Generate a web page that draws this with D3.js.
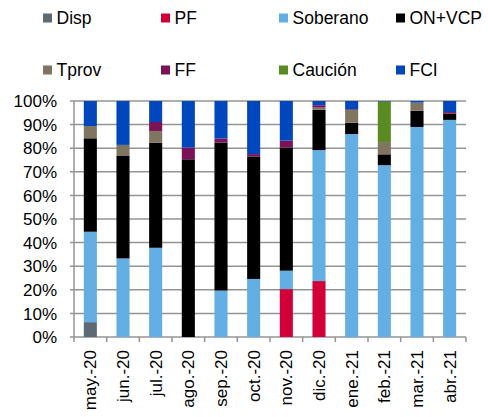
<!DOCTYPE html>
<html>
<head>
<meta charset="utf-8">
<script src="https://cdn.jsdelivr.net/npm/d3@7"></script>
<style>
  html, body { margin: 0; padding: 0; background: #fff; }
  svg { display: block; font-family: 'Liberation Sans', Arial, sans-serif; }
</style>
</head>
<body>
<svg id="chart" width="488" height="417"></svg>
<script>
// categories and series (share of total, %)
const months = ['may.-20', 'jun.-20', 'jul.-20', 'ago.-20', 'sep.-20', 'oct.-20',
  'nov.-20', 'dic.-20', 'ene.-21', 'feb.-21', 'mar.-21', 'abr.-21'];
const seriesNames = ['Disp', 'PF', 'Soberano', 'ON+VCP', 'Tprov', 'FF', 'Caución', 'FCI'];
const seriesColors = ['#5d6a74', '#d10039', '#63afe3', '#000000', '#807561', '#7a1358', '#5a8b23', '#0047bd'];

const disp     = [6.3, 0, 0, 0, 0, 0, 0, 0, 0, 0, 0, 0];
const pf       = [0, 0, 0, 0, 0, 0, 20.3, 23.7, 0, 0, 0, 0];
const soberano = [38.3, 33.3, 37.8, 0, 19.7, 24.6, 7.8, 55.5, 86.0, 72.8, 89.0, 92.0];
const onVcp    = [39.6, 43.4, 44.5, 75.3, 62.7, 51.9, 52.2, 17.1, 4.8, 4.6, 6.9, 2.6];
const tprov    = [5.2, 4.7, 5.0, 0, 0, 0, 0, 0.9, 5.4, 5.2, 3.4, 0];
const ff       = [0, 0, 3.8, 5.0, 1.7, 1.0, 2.9, 1.0, 0.3, 0, 0, 0.7];
const caucion  = [0, 0, 0, 0, 0, 0, 0, 0, 0, 17.2, 0, 0];
const fci      = [10.6, 18.6, 8.9, 19.7, 15.9, 22.5, 16.8, 1.8, 3.5, 0.2, 0.7, 4.7];

const yTicks = [0, 10, 20, 30, 40, 50, 60, 70, 80, 90, 100];

const seriesValues = [disp, pf, soberano, onVcp, tprov, ff, caucion, fci];
const rows = months.map(function(m, i) {
  const r = { month: m };
  seriesNames.forEach(function(s, k) { r[s] = seriesValues[k][i]; });
  return r;
});

const svg = d3.select('#chart');
const margin = { top: 101, left: 74, right: 22, bottom: 80 };
const width = 488 - margin.left - margin.right;
const height = 417 - margin.top - margin.bottom;

const x = d3.scaleBand().domain(months).range([0, width]).paddingInner(0.6).paddingOuter(0.3);
const xb = d3.scaleBand().domain(months).range([0, width]);
const y = d3.scaleLinear().domain([0, 100]).range([height, 0]);
const color = d3.scaleOrdinal().domain(seriesNames).range(seriesColors);

const g = svg.append('g')
  .attr('transform', 'translate(' + margin.left + ',' + margin.top + ')');

// gridlines
g.append('g')
  .selectAll('line')
  .data(yTicks)
  .enter()
  .append('line')
  .attr('x1', -4)
  .attr('x2', width)
  .attr('y1', function(d) { return y(d); })
  .attr('y2', function(d) { return y(d); })
  .attr('stroke', '#949494')
  .attr('stroke-width', 1.5);

// y axis line
g.append('line')
  .attr('x1', 0).attr('x2', 0)
  .attr('y1', 0).attr('y2', height)
  .attr('stroke', '#949494')
  .attr('stroke-width', 1.5);

// y labels
g.append('g')
  .selectAll('text')
  .data(yTicks)
  .enter()
  .append('text')
  .attr('x', -17)
  .attr('y', function(d) { return y(d); })
  .attr('dy', '0.36em')
  .attr('text-anchor', 'end')
  .attr('font-size', 17)
  .attr('fill', '#000')
  .text(function(d) { return d + '%'; });

// stacked bars
const stacked = d3.stack().keys(seriesNames)(rows);

g.append('g')
  .selectAll('g')
  .data(stacked)
  .enter()
  .append('g')
  .attr('fill', function(d) { return color(d.key); })
  .selectAll('rect')
  .data(function(d) { return d; })
  .enter()
  .append('rect')
  .attr('x', function(d) { return x(d.data.month); })
  .attr('y', function(d) { return y(d[1]); })
  .attr('width', x.bandwidth())
  .attr('height', function(d) { return Math.max(0, y(d[0]) - y(d[1])); });

// x axis ticks at category boundaries
const bounds = months.map(function(m) { return xb(m); }).concat([width]);
g.append('g')
  .selectAll('line')
  .data(bounds)
  .enter()
  .append('line')
  .attr('x1', function(d) { return d; })
  .attr('x2', function(d) { return d; })
  .attr('y1', height)
  .attr('y2', height + 5)
  .attr('stroke', '#949494')
  .attr('stroke-width', 1.5);

// x labels
g.append('g')
  .selectAll('text')
  .data(months)
  .enter()
  .append('text')
  .attr('transform', function(d) {
    return 'translate(' + (xb(d) + xb.bandwidth() / 2) + ',' + (height + 13) + ') rotate(-90)';
  })
  .attr('dy', '0.36em')
  .attr('text-anchor', 'end')
  .attr('font-size', 17)
  .attr('fill', '#000')
  .text(function(d) { return d; });

// legend
const legendX = [43, 161, 279, 396];
const legendY = [18, 70];
const legend = svg.append('g')
  .selectAll('g')
  .data(seriesNames)
  .enter()
  .append('g')
  .attr('transform', function(d, i) {
    return 'translate(' + legendX[i % 4] + ',' + legendY[Math.floor(i / 4)] + ')';
  });

legend.append('rect')
  .attr('x', 0)
  .attr('y', -4.5)
  .attr('width', 9)
  .attr('height', 9)
  .attr('fill', function(d) { return color(d); });

legend.append('text')
  .attr('x', 13.5)
  .attr('y', 0)
  .attr('dy', '0.36em')
  .attr('font-size', 17.5)
  .attr('fill', '#000')
  .text(function(d) { return d; });
</script>
</body>
</html>
